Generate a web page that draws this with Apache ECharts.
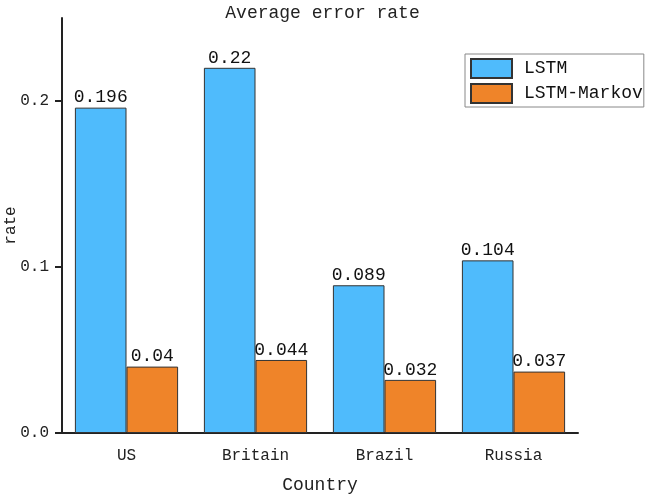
<!DOCTYPE html>
<html>
<head>
<meta charset="utf-8">
<script src="https://cdn.jsdelivr.net/npm/echarts@6/dist/echarts.min.js"></script>
<style>html,body{margin:0;padding:0;background:#fff}#c{width:645px;height:494px}</style>
</head>
<body>
<div id="c"></div>
<script>
const categories = ['US', 'Britain', 'Brazil', 'Russia'];
const lstm = [0.196, 0.22, 0.089, 0.104];
const lstmMarkov = [0.04, 0.044, 0.032, 0.037];
const seriesNames = ['LSTM', 'LSTM-Markov'];
const yTicks = [0, 0.1, 0.2];

const FONT = 'Liberation Mono';
const chart = echarts.init(document.getElementById('c'), null, {renderer: 'canvas'});
const axisCol = '#222';
const labelCfg = {show: true, position: 'top', distance: 1, fontFamily: FONT, fontSize: 18, color: '#111', formatter: p => String(p.value)};
chart.setOption({
  backgroundColor: '#fff',
  animation: false,
  title: {text: 'Average error rate', left: 'center', top: -1,
    textStyle: {fontFamily: FONT, fontSize: 18, fontWeight: 'normal', color: '#222'}},
  legend: {orient: 'vertical', left: 465, top: 54, padding: [4, 1, 3, 5], itemGap: 4,
    itemWidth: 41, itemHeight: 19, borderColor: '#888', borderWidth: 1, borderRadius: 0,
    textStyle: {fontFamily: FONT, fontSize: 18, color: '#111', padding: [0, 0, 0, 7]},
    data: seriesNames.map(n => ({name: n, icon: 'rect'}))},
  grid: {left: 62, right: 67, top: 18, bottom: 61, containLabel: false, outerBoundsMode: 'none'},
  xAxis: [{
    type: 'category', data: categories, position: 'bottom',
    name: 'Country', nameLocation: 'middle', nameGap: 43, nameMoveOverlap: false,
    nameTextStyle: {fontFamily: FONT, fontSize: 18, color: '#222'},
    axisLine: {lineStyle: {color: axisCol, width: 2}},
    axisTick: {alignWithLabel: true, length: 7, lineStyle: {color: axisCol, width: 2}},
    axisLabel: {fontFamily: FONT, fontSize: 16, color: '#222', margin: 15}
  }, {
    type: 'category', data: categories, position: 'bottom',
    axisLine: {show: false},
    axisTick: {length: 4, lineStyle: {color: axisCol, width: 2}},
    axisLabel: {show: false}
  }],
  yAxis: {
    type: 'value', min: 0, max: 0.25, interval: 0.1,
    name: 'rate', nameLocation: 'middle', nameGap: 43, nameMoveOverlap: false,
    nameTextStyle: {fontFamily: FONT, fontSize: 16, color: '#222'},
    axisLine: {show: true, lineStyle: {color: axisCol, width: 2}},
    axisTick: {show: true, length: 7, lineStyle: {color: axisCol, width: 2}},
    axisLabel: {fontFamily: FONT, fontSize: 16, color: '#222', margin: 13, showMaxLabel: false,
      formatter: v => yTicks.some(t => Math.abs(t - v) < 1e-9) ? v.toFixed(1) : ''},
    splitLine: {show: false}
  },
  series: [{
    name: seriesNames[0], type: 'bar', data: lstm, xAxisIndex: 0,
    barGap: '0%', barCategoryGap: '20%',
    itemStyle: {color: '#4FBBFC', borderColor: '#333', borderWidth: 1},
    label: labelCfg
  }, {
    name: seriesNames[1], type: 'bar', data: lstmMarkov, xAxisIndex: 0,
    barGap: '0%', barCategoryGap: '20%',
    itemStyle: {color: '#EF8429', borderColor: '#333', borderWidth: 1},
    label: labelCfg
  }]
});
</script>
</body>
</html>
